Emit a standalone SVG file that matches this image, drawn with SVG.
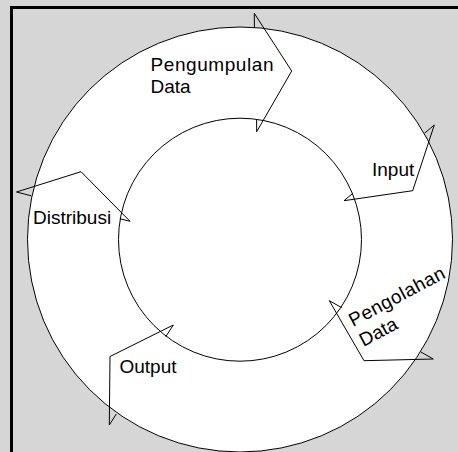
<svg xmlns="http://www.w3.org/2000/svg" width="458" height="452" viewBox="0 0 458 452">
<style>
.lbl{font-family:"Liberation Sans",Arial,sans-serif;font-size:19px;fill:#000}
.ring{fill:#fff;stroke:#000;stroke-width:1}
.arw{fill:none;stroke:#000;stroke-width:1;stroke-linejoin:miter}
.frame{stroke:#000;stroke-width:3;fill:none}
</style>
<rect x="0" y="0" width="458" height="452" fill="#d6d6d6"/>
<g id="frame">
<line class="frame" x1="10" y1="7.5" x2="458" y2="7.5"/>
<line class="frame" x1="11.5" y1="6" x2="11.5" y2="452"/>
</g>
<g id="outer-ring"><circle class="ring" cx="240" cy="239.5" r="212.5"/></g>
<g id="inner-ring"><circle class="ring" cx="240" cy="239.7" r="121.5"/></g>
<g id="connectors">
<polyline class="arw" points="254.4,27.4 254.3,13.3 291.7,71 256.7,131.7 256.6,119.2"/>
<polyline class="arw" points="424.4,133.3 434.3,125 412.7,190.7 344,200.7 352.8,193.3"/>
<polyline class="arw" points="341.6,307.6 329.3,300.7 364,360.7 433.3,359 420.9,352"/>
<polyline class="arw" points="165.7,336.8 173.3,325 110,356.5 109.3,425 116.3,414"/>
<polyline class="arw" points="119.8,218.7 130,221.3 81,171.7 16.5,192 31.3,195.8"/>
</g>
<g id="pengumpulan-data">
<text class="lbl" x="150.5" y="70.5" textLength="123">Pengumpulan</text>
<text class="lbl" x="150.5" y="93.3">Data</text>
</g>
<g id="input"><text class="lbl" x="372" y="176">Input</text></g>
<g id="pengolahan-data" transform="translate(353,327) rotate(-28)">
<text class="lbl" x="0" y="0" textLength="106">Pengolahan</text>
<text class="lbl" x="0" y="22.6">Data</text>
</g>
<g id="output"><text class="lbl" x="119.5" y="372.7">Output</text></g>
<g id="distribusi"><text class="lbl" x="33" y="224.3">Distribusi</text></g>
</svg>
